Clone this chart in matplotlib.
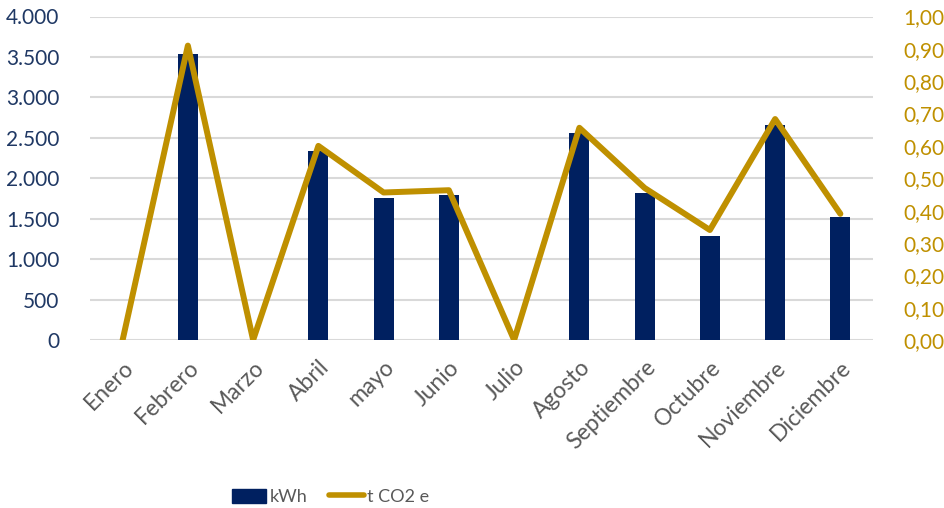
import matplotlib
matplotlib.use("Agg")
import matplotlib.pyplot as plt
from matplotlib.ticker import FuncFormatter, MultipleLocator
from matplotlib.lines import Line2D
from matplotlib.patches import Patch

months = ["Enero", "Febrero", "Marzo", "Abril", "mayo", "Junio", "Julio",
          "Agosto", "Septiembre", "Octubre", "Noviembre", "Diciembre"]
kwh = [0, 3540, 0, 2335, 1759, 1788, 0, 2558, 1813, 1289, 2657, 1516]
co2 = [0, 0.91, 0, 0.60, 0.456, 0.463, 0, 0.656, 0.47, 0.34, 0.683, 0.39]

NAVY = "#002060"
GOLD = "#BF9000"
GRID = "#D9D9D9"
GRAY = "#595959"

plt.rcParams["font.family"] = ["Lato", "DejaVu Sans"]

fig = plt.figure(figsize=(9.45, 5.08), dpi=100)
ax = fig.add_axes([90 / 945, 1 - 340 / 508, (873 - 90) / 945, (340 - 16.5) / 508])
ax2 = ax.twinx()

x = list(range(len(months)))
ax.bar(x, kwh, width=0.31, color=NAVY, zorder=2)
ax2.plot(x, co2, color=GOLD, lw=4.3, solid_joinstyle="round",
         solid_capstyle="round", zorder=3)

ax.set_xlim(-0.5, 11.5)
ax.set_ylim(0, 4000)
ax2.set_ylim(0, 1.0)
ax.yaxis.set_major_locator(MultipleLocator(500))
ax2.yaxis.set_major_locator(MultipleLocator(0.1))

ax.yaxis.set_major_formatter(FuncFormatter(lambda v, p: f"{int(round(v)):,}".replace(",", ".")))
ax2.yaxis.set_major_formatter(FuncFormatter(lambda v, p: f"{v:.2f}".replace(".", ",")))

ax.grid(axis="y", color=GRID, lw=1.5, zorder=0)
ax.set_axisbelow(True)
for a in (ax, ax2):
    for s in a.spines.values():
        s.set_visible(False)
    a.tick_params(length=0)
ax.patch.set_visible(False)

ax.tick_params(axis="y", labelsize=15, labelcolor="#1F3864", pad=22)
ax2.tick_params(axis="y", labelsize=15, labelcolor=GOLD, pad=22)

ax.set_xticks(x)
ax.set_xticklabels(months, rotation=45, ha="right", rotation_mode="anchor",
                   fontsize=16.5, color=GRAY)
ax.tick_params(axis="x", pad=12)

handles = [Patch(facecolor=NAVY, edgecolor=NAVY),
           Line2D([0], [0], color=GOLD, lw=4, solid_capstyle="round")]
fig.legend(handles, ["kWh", "t CO2 e"], loc="center", bbox_to_anchor=(0.35, 0.022),
           ncol=2, frameon=False, fontsize=13, labelcolor=GRAY,
           handlelength=1.9, handleheight=0.8, handletextpad=0.2, columnspacing=1.2)

fig.savefig("out.png", dpi=100)
